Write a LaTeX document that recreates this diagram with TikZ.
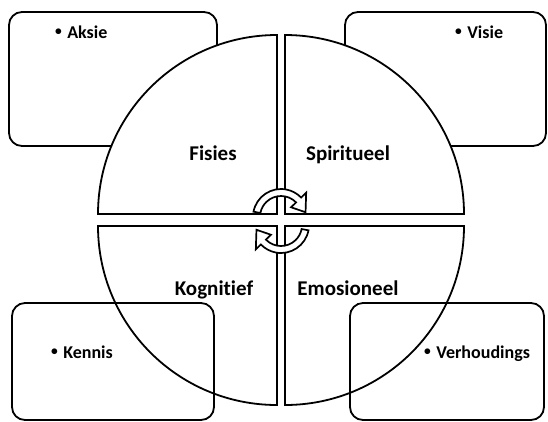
\documentclass[tikz,border=0pt]{standalone}
\usepackage{fontspec}
\setmainfont{Carlito}[Ligatures=NoCommon]
\newcommand{\smallbul}{\raisebox{0.12em}{\scalebox{0.75}{\textbullet}}}
\begin{document}
\begin{tikzpicture}[x=1bp,y=-1bp,
  quarter/.style={draw=black,line width=1.8bp,fill=white,line join=miter},
  infobox/.style={draw=black,line width=1.8bp,rounded corners=13bp},
  cyclearrow/.style={draw=black,line width=1.7bp,fill=white,line join=miter},
  mainlabel/.style={font=\bfseries\fontsize{21bp}{21bp}\selectfont,anchor=base,inner sep=0pt},
  itemlabel/.style={font=\bfseries\fontsize{18bp}{18bp}\selectfont,anchor=base west,inner sep=0pt}]
\useasboundingbox (0,0) rectangle (548,421);
% top boxes (behind the circle)
\draw[infobox,fill=white] (9,12) rectangle (217,146);
\draw[infobox,fill=white] (345,12) rectangle (546,146);
% four quarters
\draw[quarter] (277,214) -- ++(-179,0) arc[start angle=180,end angle=270,radius=179] -- cycle;
\draw[quarter] (285,214) -- ++(179,0) arc[start angle=0,end angle=-90,radius=179] -- cycle;
\draw[quarter] (277,226) -- ++(-179,0) arc[start angle=180,end angle=90,radius=179] -- cycle;
\draw[quarter] (285,226) -- ++(179,0) arc[start angle=0,end angle=90,radius=179] -- cycle;
% circular arrows
\begin{scope}[shift={(281,217)}]
\draw[cyclearrow] (191:28) arc[start angle=191,end angle=316,radius=28] -- (316:35) -- (349:25) -- (316:14) -- (316:21) arc[start angle=316,end angle=191,radius=21] -- cycle;
\end{scope}
\begin{scope}[shift={(281,225)}]
\draw[cyclearrow] (11:28) arc[start angle=11,end angle=136,radius=28] -- (136:35) -- (169:25) -- (136:14) -- (136:21) arc[start angle=136,end angle=11,radius=21] -- cycle;
\end{scope}
% bottom boxes (transparent, over the circle)
\draw[infobox] (12,303) rectangle (214,420);
\draw[infobox] (350,303) rectangle (544,420);
% labels
\node[mainlabel] (fisies) at (213,160) {Fisies};
\node[mainlabel] (spiritueel) at (348,160) {Spiritueel};
\node[mainlabel] (kognitief) at (214,295) {Kognitief};
\node[mainlabel] (emosioneel) at (348,295) {Emosioneel};
\node[itemlabel] (aksie) at (55,38) {\smallbul\hspace{0.3em}Aksie};
\node[itemlabel] (visie) at (455,38) {\smallbul\hspace{0.3em}Visie};
\node[itemlabel] (kennis) at (51,358) {\smallbul\hspace{0.3em}Kennis};
\node[itemlabel] (verhoudings) at (424,358) {\smallbul\hspace{0.3em}Verhoudings};
\end{tikzpicture}
\end{document}
